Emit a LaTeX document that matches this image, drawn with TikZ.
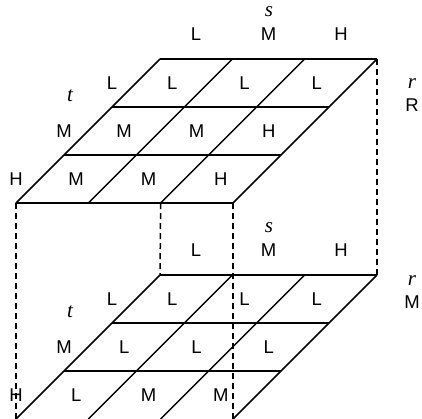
\documentclass[tikz,border=0pt]{standalone}
\usepackage{fontspec}
\setmainfont{Liberation Sans}
\newfontfamily\tms{Liberation Serif}
\begin{document}
\begin{tikzpicture}[x=1pt,y=-1pt,
  lab/.style={font=\fontsize{18.5}{20}\selectfont, inner sep=0pt},
  var/.style={font=\tms\itshape\fontsize{21}{23}\selectfont, inner sep=0pt},
  gridline/.style={line width=1.5pt},
  dashline/.style={line width=1.5pt, dash pattern=on 6pt off 4pt}]
\useasboundingbox (0,0) rectangle (422,418);
% grid corner coordinates
\foreach \k/\dy in {T/0,B/216}{
  \foreach \i in {0,...,3}{
    \foreach \j in {0,...,3}{
      \coordinate (\k\i\j) at ({160+72.33*\i-48*\j},{59+\dy+48*\j});
    }
  }
}
% dashed verticals
\draw[dashline] (T03) -- (B03);
\draw[dashline] (T23) -- (B00);
\draw[dashline] (T33) -- (B33);
\draw[dashline] (T30) -- (B30);
% grids
\foreach \j in {0,...,3}{ \draw[gridline] (T0\j) -- (T3\j); }
\foreach \i in {0,...,3}{ \draw[gridline] (T\i0) -- (T\i3); }
\foreach \j in {0,...,2}{ \draw[gridline] (B0\j) -- (B3\j); }
\foreach \i in {0,...,3}{ \draw[gridline] (B\i0) -- (B\i3); }
% top layer labels
\node[var] (sT) at (269,12) {s};
\node[lab] (cTL) at (196,34) {L};
\node[lab] (cTM) at (268.5,34) {M};
\node[lab] (cTH) at (341,34) {H};
\node[var] (tT) at (70,96) {t};
\node[lab] (rTL) at (112,83) {L};
\node[lab] (rTM) at (64,131) {M};
\node[lab] (rTH) at (16,179) {H};
\node[var] (rT) at (412,84) {r};
\node[lab] (RT) at (412,105) {R};
% bottom layer labels
\node[var] (sB) at (269,228) {s};
\node[lab] (cBL) at (196,250) {L};
\node[lab] (cBM) at (268.5,250) {M};
\node[lab] (cBH) at (341,250) {H};
\node[var] (tB) at (70,312) {t};
\node[lab] (rBL) at (112,299) {L};
\node[lab] (rBM) at (64,347) {M};
\node[lab] (rBH) at (16,395) {H};
\node[var] (rB) at (412,281) {r};
\node[lab] (MB) at (412,302) {M};
% cell labels
\foreach \k/\dy/\lst in {T/0/{{L,L,L},{M,M,H},{M,M,H}}, B/216/{{L,L,L},{L,L,L},{L,M,M}}}{
  \foreach \row [count=\j from 0] in \lst {
    \foreach \v [count=\i from 0] in \row {
      \node[lab] (\k cell\i\j) at ({160+72.33*(\i+0.5)-48*(\j+0.5)},{59+\dy+48*(\j+0.5)}) {\v};
    }
  }
}
\end{tikzpicture}
\end{document}
